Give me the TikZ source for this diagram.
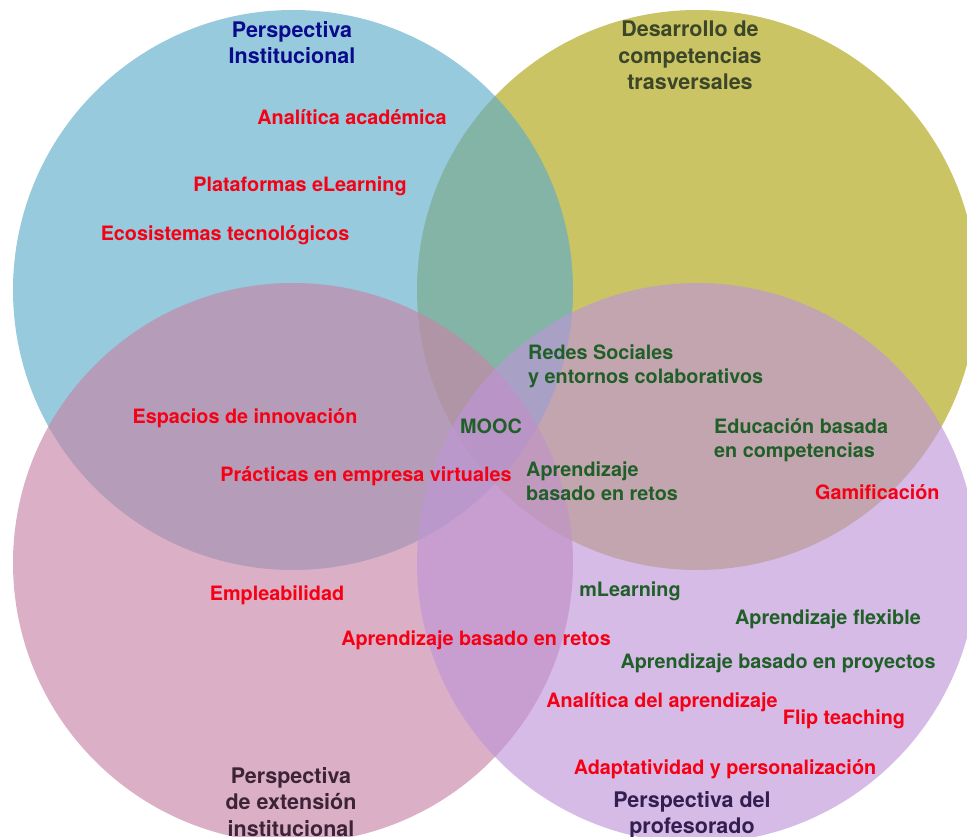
\documentclass[tikz,border=0pt]{standalone}
\usepackage{fontspec}
\setmainfont{TeX Gyre Heros}
\definecolor{cyel}{RGB}{175,164,17}
\definecolor{cblu}{RGB}{93,173,201}
\definecolor{cpnk}{RGB}{199,133,167}
\definecolor{cpur}{RGB}{190,150,216}
\definecolor{tred}{RGB}{245,0,20}
\definecolor{tgrn}{RGB}{32,95,40}
\definecolor{tblu}{RGB}{10,10,140}
\definecolor{tolv}{RGB}{60,70,40}
\definecolor{tpnk}{RGB}{60,35,55}
\definecolor{tpur}{RGB}{50,30,80}
\tikzset{
  venn/.style={fill opacity=0.65, draw=none},
  lbl/.style={inner sep=0pt, font=\fontsize{19.8}{24}\selectfont\bfseries},
  redl/.style={lbl, text=tred},
  grnl/.style={lbl, text=tgrn},
  midl/.style={lbl, align=left, anchor=west},
  ttl/.style={inner sep=0pt, align=center, font=\fontsize{21.5}{26.5}\selectfont\bfseries}
}
\begin{document}
\begin{tikzpicture}[x=1pt,y=-1pt]
\useasboundingbox (0,0) rectangle (967,837);
\clip (0,0) rectangle (967,837);
\fill[venn, cyel] (697,290) circle[radius=280pt];
\fill[venn, cblu] (293,290) circle[radius=280pt];
\fill[venn, cpnk] (293,563) circle[radius=280pt];
\fill[venn, cpur] (697,563) circle[radius=280pt];

\node[ttl, text=tblu, anchor=north] (t1) at (292,21) {Perspectiva\\Institucional};
\node[ttl, text=tolv, anchor=north] (t2) at (690,21) {Desarrollo de\\competencias\\trasversales};
\node[ttl, text=tpnk, anchor=north] (t3) at (291,767) {Perspectiva\\de extensión\\institucional};
\node[ttl, text=tpur, anchor=north] (t4) at (692,791) {Perspectiva del\\profesorado};

\node[redl] (a1) at (352,117) {Analítica académica};
\node[redl] (a2) at (300,186) {Plataformas eLearning};
\node[redl] (a3) at (225,235) {Ecosistemas tecnológicos};
\node[redl] (a4) at (245,418) {Espacios de innovación};
\node[redl] (a5) at (366,476) {Prácticas en empresa virtuales};
\node[midl, text=tgrn] (m1) at (460,426) {MOOC};
\node[midl, text=tgrn] (m2) at (528,366) {Redes Sociales\\y entornos colaborativos};
\node[midl, text=tgrn] (m3) at (714,440) {Educación basada\\en competencias};
\node[midl, text=tgrn] (m4) at (526,481) {Aprendizaje\\basado en retos};
\node[midl, text=tred] (m5) at (815,492) {Gamificación};
\node[redl] (b1) at (277,595) {Empleabilidad};
\node[redl] (b2) at (476,640) {Aprendizaje basado en retos};
\node[grnl] (b3) at (630,591) {mLearning};
\node[grnl] (b4) at (828,619) {Aprendizaje flexible};
\node[grnl] (b5) at (778,663) {Aprendizaje basado en proyectos};
\node[redl] (b6) at (662,702) {Analítica del aprendizaje};
\node[redl] (b7) at (844,719) {Flip teaching};
\node[redl] (b8) at (725,769) {Adaptatividad y personalización};
\end{tikzpicture}
\end{document}
